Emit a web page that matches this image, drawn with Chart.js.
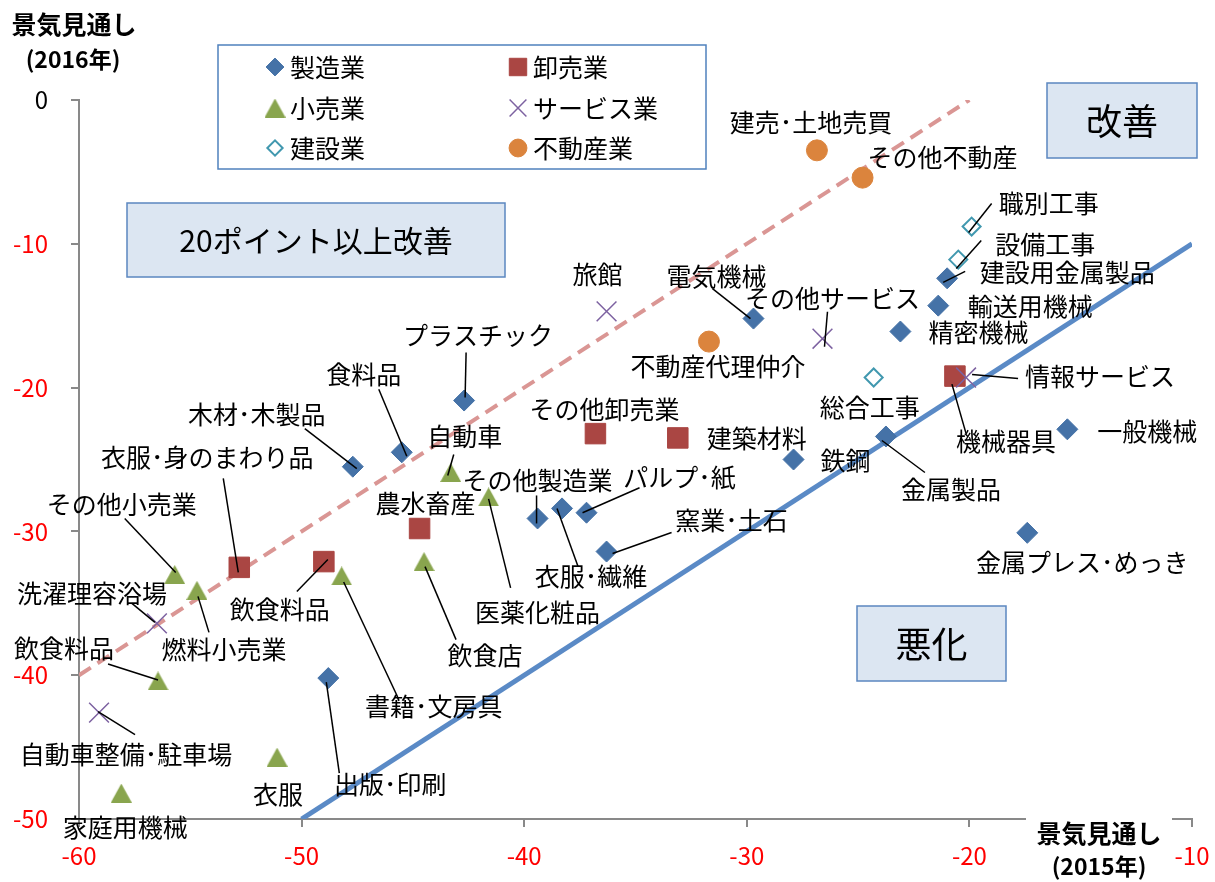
<!DOCTYPE html>
<html lang="ja">
<head>
<meta charset="utf-8">
<title>景気見通し 2015年・2016年</title>
<script src="https://cdn.jsdelivr.net/npm/chart.js@4.4.1/dist/chart.umd.min.js"></script>
<style>
  html, body { margin: 0; padding: 0; background: #fff; }
  #chart { display: block; }
</style>
</head>
<body>
<canvas id="chart" width="1215" height="882"></canvas>
<script>
// 業種別の景気見通し（x: 2015年, y: 2016年）
const seizoNames = ['プラスチック', '食料品', '木材･木製品', '電気機械', '建設用金属製品', '輸送用機械', '精密機械', '一般機械',
  '金属製品', '鉄鋼', '金属プレス･めっき', '窯業･土石', 'その他製造業', '衣服･繊維', 'パルプ･紙', '出版･印刷'];
const seizoX = [-42.7, -45.5, -47.7, -29.7, -21.0, -21.4, -23.1, -15.6, -23.75, -27.9, -17.4, -36.3, -39.4, -38.3, -37.2, -48.8];
const seizoY = [-20.9, -24.5, -25.5, -15.2, -12.4, -14.3, -16.1, -22.9, -23.4, -25.0, -30.1, -31.4, -29.1, -28.4, -28.7, -40.2];

const orosiNames = ['衣服･身のまわり品', '飲食料品', '農水畜産', 'その他卸売業', '建築材料', '機械器具'];
const orosiX = [-52.8, -49.0, -44.7, -36.8, -33.1, -20.65];
const orosiY = [-32.5, -32.1, -29.8, -23.2, -23.5, -19.2];

const kouriNames = ['自動車', '医薬化粧品', '飲食店', '書籍･文房具', 'その他小売業', '燃料小売業', '飲食料品', '衣服', '家庭用機械'];
const kouriX = [-43.3, -41.6, -44.5, -48.2, -55.7, -54.7, -56.45, -51.1, -58.1];
const kouriY = [-25.9, -27.6, -32.1, -33.1, -33.0, -34.1, -40.4, -45.7, -48.2];

const serviceNames = ['旅館', 'その他サービス', '情報サービス', '洗濯理容浴場', '自動車整備･駐車場'];
const serviceX = [-36.3, -26.6, -20.15, -56.5, -59.1];
const serviceY = [-14.7, -16.6, -19.3, -36.4, -42.6];

const kensetsuNames = ['職別工事', '設備工事', '総合工事'];
const kensetsuX = [-19.9, -20.5, -24.3];
const kensetsuY = [-8.8, -11.1, -19.3];

const fudosanNames = ['建売･土地売買', 'その他不動産', '不動産代理仲介'];
const fudosanX = [-26.85, -24.8, -31.7];
const fudosanY = [-3.5, -5.4, -16.8];

// 基準線: 横ばい (y = x) と 20ポイント改善 (y = x + 20)
const flatX = [-50, -10];
const flatY = [-50, -10];
const plus20X = [-60, -20];
const plus20Y = [-40, 0];

const xTicks = [-60, -50, -40, -30, -20, -10];
const yTicks = [0, -10, -20, -30, -40, -50];

// ラベル位置（マーカーからのずれ px）: [文字dx, 文字dy, 引出線始点dx, dy, 終点dx, dy]
const seizoPos = [[14, -65, 2, -48, 1, -3], [-38, -78, -23, -63, 5, 4], [-96, -52, -48, -38, 4, 2], [-37, -42, -41, -30, -3, 0],
  [120, -6, 18, -7, -4, 4], [92, 1], [78, 1], [80, 2], [65, 53, 39, 36, -4, 4], [52, 1], [55, 30],
  [125, -31, 65, -19, 6, 2], [0, -38, -1, -23, -1, 5], [29, 68, 16, 58, -5, 0], [93, -35, 53, -25, -4, 0], [62, 106, 11, 95, -2, 4]];
const orosiPos = [[-32, -110, -16, -89, -1, 5], [-44, 48, -27, 30, 4, -2], [6, -25], [9, -24], [79, 1], [51, 65, 11, 57, -3, 8]];
const kouriPos = [[14, -36, 3, -18, -3, 3], [49, 116, 22, 91, 0, 2], [61, 94, 32, 78, 1, 5], [92, 131, 56, 121, 2, 6],
  [-53, -70, -50, -56, 1, -2], [27, 59, 12, 42, 1, 6], [-94, -32, -50, -17, 0, -1], [1, 37], [4, 34]];
const servicePos = [[-9, -37], [10, -40, 5, -27, 2, 8], [134, -1, 52, 1, 6, -3], [-65, -30, -25, -20, -2, -1], [27, 42, 36, 22, -1, -1]];
const kensetsuPos = [[77, -23, 20, -23, -3, 6], [87, -15, 23, -19, -2, 9], [-4, 30]];
const fudosanPos = [[-6, -28], [80, -20], [9, 25]];

const FONT = '"Noto Sans CJK JP", "Noto Sans", sans-serif';

// 三角マーカーは外接枠の中心が点に来るよう画像で描く
function makeTriangle(w, h, color) {
  const c = document.createElement('canvas');
  c.width = w; c.height = h;
  const g = c.getContext('2d');
  g.fillStyle = color;
  g.beginPath();
  g.moveTo(w / 2, 0);
  g.lineTo(w, h);
  g.lineTo(0, h);
  g.closePath();
  g.fill();
  return c;
}
const triangle = makeTriangle(21, 19, '#89A54E');

function toPoints(xs, ys) {
  return xs.map((x, i) => ({ x: x, y: ys[i] }));
}

// 系列ごとの名前とラベル位置（datasets と同じ並び）
const series = [
  { names: seizoNames, pos: seizoPos },
  { names: orosiNames, pos: orosiPos },
  { names: kouriNames, pos: kouriPos },
  { names: serviceNames, pos: servicePos },
  { names: kensetsuNames, pos: kensetsuPos },
  { names: fudosanNames, pos: fudosanPos }
];

const datasets = [
  { label: '製造業', data: toPoints(seizoX, seizoY), pointStyle: 'rectRot', pointRadius: 10.5,
    backgroundColor: '#4572A7', borderColor: '#4572A7', borderWidth: 1, order: 6 },
  { label: '卸売業', data: toPoints(orosiX, orosiY), pointStyle: 'rect', pointRadius: 14.5,
    backgroundColor: '#AA4643', borderColor: '#AA4643', borderWidth: 1, order: 5 },
  { label: '小売業', data: toPoints(kouriX, kouriY), pointStyle: triangle, pointRadius: 10,
    backgroundColor: '#89A54E', borderColor: '#89A54E', order: 4 },
  { label: 'サービス業', data: toPoints(serviceX, serviceY), pointStyle: 'crossRot', pointRadius: 14,
    backgroundColor: '#7D62A1', borderColor: '#7D62A1', borderWidth: 1.5, order: 3 },
  { label: '建設業', data: toPoints(kensetsuX, kensetsuY), pointStyle: 'rectRot', pointRadius: 9,
    backgroundColor: '#ffffff', borderColor: '#4198AF', borderWidth: 2, order: 2 },
  { label: '不動産業', data: toPoints(fudosanX, fudosanY), pointStyle: 'circle', pointRadius: 10.5,
    backgroundColor: '#DB843D', borderColor: '#DB843D', borderWidth: 1, order: 1 },
  { label: '横ばい', type: 'line', data: toPoints(flatX, flatY), showLine: true, pointRadius: 0,
    borderColor: '#5A8AC6', borderWidth: 5, order: 10 },
  { label: '20ポイント改善', type: 'line', data: toPoints(plus20X, plus20Y), showLine: true, pointRadius: 0,
    borderColor: '#DA9694', borderWidth: 4, borderDash: [14, 8], order: 11 }
];

// 囲み文字
const boxes = [
  { text: '改善', x: 1047, y: 83, w: 150, h: 75, size: 36 },
  { text: '20ポイント以上改善', x: 127, y: 203, w: 378, h: 74, size: 30 },
  { text: '悪化', x: 857, y: 606, w: 149, h: 75, size: 36 }
];

const pointNames = {
  id: 'pointNames',
  afterDatasetsDraw(chart) {
    const ctx = chart.ctx;
    ctx.save();
    ctx.font = '25px ' + FONT;
    ctx.fillStyle = '#000';
    ctx.strokeStyle = '#000';
    ctx.lineWidth = 1.5;
    ctx.textAlign = 'center';
    ctx.textBaseline = 'middle';
    series.forEach((s, i) => {
      const meta = chart.getDatasetMeta(i);
      s.names.forEach((name, j) => {
        const el = meta.data[j];
        const p = s.pos[j];
        if (p.length > 2) {
          ctx.beginPath();
          ctx.moveTo(el.x + p[2], el.y + p[3]);
          ctx.lineTo(el.x + p[4], el.y + p[5]);
          ctx.stroke();
        }
        ctx.fillText(name, el.x + p[0], el.y + p[1]);
      });
    });
    ctx.restore();
  }
};

const decorations = {
  id: 'decorations',
  afterDraw(chart) {
    const ctx = chart.ctx;
    const helpers = Chart.helpers;
    ctx.save();

    // 囲み文字
    boxes.forEach(b => {
      ctx.fillStyle = '#DCE6F2';
      ctx.fillRect(b.x, b.y, b.w, b.h);
      ctx.strokeStyle = '#5B87C0';
      ctx.lineWidth = 1.5;
      ctx.strokeRect(b.x, b.y, b.w, b.h);
      ctx.fillStyle = '#000';
      ctx.font = b.size + 'px ' + FONT;
      ctx.textAlign = 'center';
      ctx.textBaseline = 'middle';
      ctx.fillText(b.text, b.x + b.w / 2, b.y + b.h / 2 + 1);
    });

    // 凡例
    const lx = 218, ly = 45, lw = 488, lh = 124;
    ctx.fillStyle = '#fff';
    ctx.fillRect(lx, ly, lw, lh);
    ctx.strokeStyle = '#4F81BD';
    ctx.lineWidth = 1.5;
    ctx.strokeRect(lx, ly, lw, lh);
    const cols = [275, 518];
    const rows = [67, 108, 148];
    datasets.slice(0, 6).forEach((ds, k) => {
      const mx = cols[k % 2];
      const my = rows[Math.floor(k / 2)];
      ctx.fillStyle = ds.backgroundColor;
      ctx.strokeStyle = ds.borderColor;
      ctx.lineWidth = ds.borderWidth || 1;
      helpers.drawPoint(ctx, {
        pointStyle: ds.pointStyle,
        radius: typeof ds.pointStyle === 'string' ? ds.pointRadius * 0.85 : ds.pointRadius,
        rotation: 0,
        borderWidth: ds.borderWidth || 1
      }, mx, my);
      ctx.fillStyle = '#000';
      ctx.font = '25px ' + FONT;
      ctx.textAlign = 'left';
      ctx.textBaseline = 'middle';
      ctx.fillText(ds.label, mx + 15, my);
    });

    // 縦軸タイトル
    ctx.fillStyle = '#000';
    ctx.textAlign = 'center';
    ctx.textBaseline = 'middle';
    ctx.font = 'bold 25px ' + FONT;
    ctx.fillText('景気見通し', 74, 24);
    ctx.font = 'bold 23px ' + FONT;
    ctx.fillText('(2016年)', 73, 59);

    // 横軸タイトル（軸線を白地で覆う）
    ctx.fillStyle = '#fff';
    ctx.fillRect(1026, 812, 146, 70);
    ctx.fillStyle = '#000';
    ctx.font = 'bold 25px ' + FONT;
    ctx.fillText('景気見通し', 1099, 833);
    ctx.font = 'bold 23px ' + FONT;
    ctx.fillText('(2015年)', 1099, 866);

    ctx.restore();
  }
};

new Chart(document.getElementById('chart'), {
  type: 'scatter',
  data: { datasets: datasets },
  options: {
    responsive: false,
    animation: false,
    devicePixelRatio: 1,
    layout: { padding: { top: 100, right: 23, bottom: 0, left: 0 } },
    plugins: {
      legend: { display: false },
      tooltip: { enabled: false }
    },
    scales: {
      x: {
        type: 'linear',
        position: 'bottom',
        min: -60,
        max: -10,
        afterBuildTicks: s => { s.ticks = xTicks.map(v => ({ value: v })); },
        ticks: { color: '#FF0000', font: { family: FONT, size: 24 }, padding: 14 },
        grid: { drawOnChartArea: false, color: '#898989', lineWidth: 2, tickLength: 8 },
        border: { color: '#898989', width: 2 },
        afterFit: s => { s.height = 63; s.paddingLeft = 0; s.paddingRight = 0; }
      },
      y: {
        type: 'linear',
        position: 'left',
        min: -50,
        max: 0,
        afterBuildTicks: s => { s.ticks = yTicks.map(v => ({ value: v })); },
        ticks: {
          color: c => (c.tick.value === 0 ? '#000000' : '#FF0000'),
          font: { family: FONT, size: 24 },
          padding: 23
        },
        grid: { drawOnChartArea: false, color: '#898989', lineWidth: 2, tickLength: 8 },
        border: { color: '#898989', width: 2 },
        afterFit: s => { s.width = 79; s.paddingTop = 0; s.paddingBottom = 0; }
      }
    }
  },
  plugins: [pointNames, decorations]
});
</script>
</body>
</html>
